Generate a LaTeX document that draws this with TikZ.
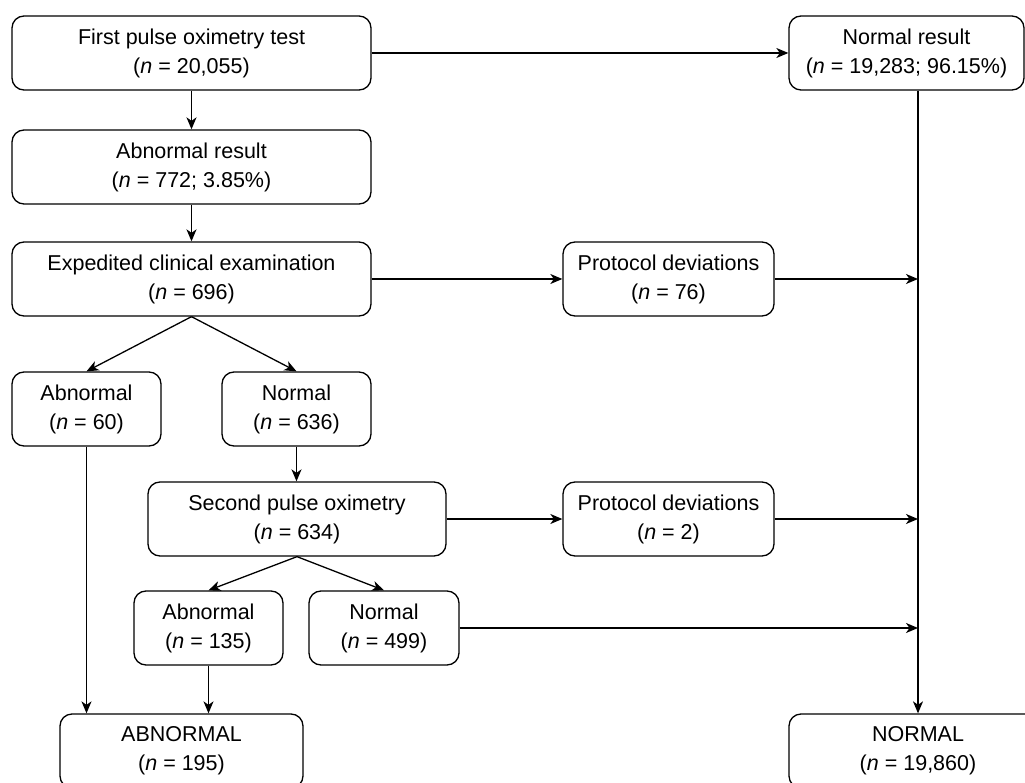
\documentclass[tikz,border=0pt]{standalone}
\usepackage{fontspec}
\setmainfont{Liberation Sans}
\usetikzlibrary{arrows.meta}
\begin{document}
\begin{tikzpicture}[x=1pt,y=-1pt,
  box/.style={draw, line width=1.3pt, rounded corners=12pt, align=center,
    inner sep=0pt, font=\fontsize{21.5}{29}\selectfont},
  arr/.style={line width=1.3pt, -{Stealth[length=12pt,width=10pt,inset=3.5pt]}},
  link/.style={line width=1.3pt}]
\clip (0,0) rectangle (1025,783);
\fill[white] (0,0) rectangle (1025,783);

% boxes
\node[box, minimum width=359pt, minimum height=74pt] (first) at (191.5,53)
  {First pulse oximetry test\\(\textit{n} = 20,055)};
\node[box, minimum width=235pt, minimum height=74pt] (nres) at (906.5,53)
  {Normal result\\(\textit{n} = 19,283; 96.15\%)};
\node[box, minimum width=359pt, minimum height=74pt] (abres) at (191.5,167)
  {Abnormal result\\(\textit{n} = 772; 3.85\%)};
\node[box, minimum width=359pt, minimum height=74pt] (exam) at (191.5,279)
  {Expedited clinical examination\\(\textit{n} = 696)};
\node[box, minimum width=211pt, minimum height=74pt] (pda) at (668.5,279)
  {Protocol deviations\\(\textit{n} = 76)};
\node[box, minimum width=149pt, minimum height=74pt] (abA) at (86.5,409)
  {Abnormal\\(\textit{n} = 60)};
\node[box, minimum width=149pt, minimum height=74pt] (noA) at (296.5,409)
  {Normal\\(\textit{n} = 636)};
\node[box, minimum width=298pt, minimum height=74pt] (second) at (297,519)
  {Second pulse oximetry\\(\textit{n} = 634)};
\node[box, minimum width=211pt, minimum height=74pt] (pdb) at (668.5,519)
  {Protocol deviations\\(\textit{n} = 2)};
\node[box, minimum width=149pt, minimum height=74pt] (abB) at (208.5,628)
  {Abnormal\\(\textit{n} = 135)};
\node[box, minimum width=150pt, minimum height=74pt] (noB) at (384,628)
  {Normal\\(\textit{n} = 499)};
\node[box, minimum width=243pt, minimum height=74pt] (abnall) at (181.5,751)
  {ABNORMAL\\(\textit{n} = 195)};
\node[box, minimum width=258pt, minimum height=74pt] (norall) at (918,751)
  {NORMAL\\(\textit{n} = 19,860)};

% collecting line on the right
\coordinate (vtop) at (nres.south -| norall.north);
\draw[arr] (vtop) -- (norall.north);

% connectors
\draw[arr] (first.east) -- (nres.west);
\draw[arr] (first.south) -- (abres.north);
\draw[arr] (abres.south) -- (exam.north);
\draw[arr] (exam.east) -- (pda.west);
\draw[arr] (pda.east) -- (pda.east -| norall.north);
\draw[arr] (exam.south) -- (abA.north);
\draw[arr] (exam.south) -- (noA.north);
\draw[arr] (noA.south) -- (noA.south |- second.north);
\draw[arr] (second.east) -- (pdb.west);
\draw[arr] (pdb.east) -- (pdb.east -| norall.north);
\draw[arr] (second.south) -- (abB.north);
\draw[arr] (second.south) -- (noB.north);
\draw[arr] (noB.east) -- (noB.east -| norall.north);
\draw[arr] (abA.south) -- (abA.south |- abnall.north);
\draw[arr] (abB.south) -- (abB.south |- abnall.north);
\end{tikzpicture}
\end{document}
